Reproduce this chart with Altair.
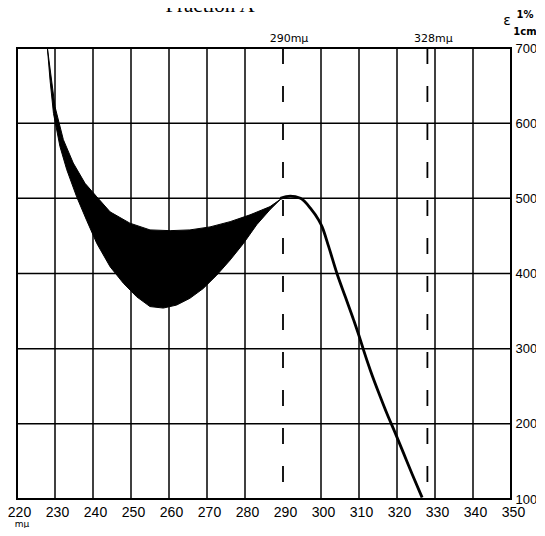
import altair as alt
import pandas as pd

# ---- axis values ----
x_ticks = [220, 230, 240, 250, 260, 270, 280, 290, 300, 310, 320, 330, 340, 350]
y_ticks = [100, 200, 300, 400, 500, 600, 700]
grid_x = [220, 230, 240, 250, 260, 270, 280, 300, 310, 320, 330, 340, 350]
marker_x = [290, 328]
marker_labels = ["290mμ", "328mμ"]

# ---- black band (lower and upper edge of the filled region) ----
lower_x = [228.0, 228.7, 229.6, 231.3, 233.1, 235.7, 238.3, 241.0, 244.5, 248.0, 251.5,
           255.0, 258.5, 262.0, 265.5, 269.0, 272.6, 276.1, 279.6, 283.1, 286.6, 289.4]
lower_y = [700, 657, 613, 569, 538, 502, 471, 440, 409, 387, 369,
           356, 354, 358, 367, 380, 398, 418, 440, 465, 485, 499]
upper_x = [228.0, 230.0, 232.2, 234.8, 237.9, 241.0, 244.5, 249.7, 255.0, 260.3,
           265.5, 270.8, 276.1, 281.3, 286.6, 289.4]
upper_y = [700, 622, 578, 547, 520, 502, 482, 467, 458, 457,
           458, 462, 469, 478, 489, 499]

# ---- single curve beyond the band ----
line_x = [289.3, 291.9, 294.6, 297.2, 299.4, 300.3, 302.0, 304.2, 306.4, 308.6, 310.4,
          311.2, 313.0, 315.6, 317.4, 319.6, 321.8, 324.0, 326.6]
line_y = [500, 503, 500, 487, 471, 462, 436, 400, 369, 338, 311,
          298, 271, 236, 213, 187, 160, 133, 102]

band_df = pd.DataFrame({
    "x": lower_x + upper_x[::-1],
    "y": lower_y + upper_y[::-1],
    "seq": list(range(len(lower_x) + len(upper_x))),
})
line_df = pd.DataFrame({"x": line_x, "y": line_y})
gridx_df = pd.DataFrame({"x": grid_x})
gridy_df = pd.DataFrame({"y": y_ticks})
marker_df = pd.DataFrame({"x": marker_x, "label": marker_labels})

xs = alt.Scale(domain=[220, 350], nice=False, zero=False)
ys = alt.Scale(domain=[100, 700], nice=False, zero=False)
xaxis = alt.Axis(values=x_ticks, grid=False, ticks=False, domain=False, tickSize=0,
                 labelFont="Liberation Sans", labelFontSize=14, labelColor="black",
                 labelPadding=6, labelOffset=2, labelFlush=False, labelOverlap=False,
                 title=None)
yaxis = alt.Axis(orient="right", values=y_ticks, grid=False, ticks=False, domain=False,
                 tickSize=0, labelFont="Liberation Sans", labelFontSize=13,
                 labelColor="black", labelPadding=4, labelFlush=False,
                 labelOverlap=False, title=None)
X = alt.X("x:Q", scale=xs, axis=xaxis)
Y = alt.Y("y:Q", scale=ys, axis=yaxis)

vgrid = alt.Chart(gridx_df).mark_rule(color="black", strokeWidth=1.5).encode(x=X)
hgrid = alt.Chart(gridy_df).mark_rule(color="black", strokeWidth=1.5).encode(y=Y)
dashed = alt.Chart(marker_df).mark_rule(color="black", strokeWidth=1.8,
                                         strokeDash=[16, 22]).encode(x=X)
band = alt.Chart(band_df).mark_line(color="black", fill="black", strokeWidth=1,
                                    interpolate="linear").encode(
    x=X, y=Y, order=alt.Order("seq:Q"))
curve = alt.Chart(line_df).mark_line(color="black", strokeWidth=2.8,
                                     interpolate="monotone").encode(x=X, y=Y)
marker_text = alt.Chart(marker_df).mark_text(font="DejaVu Sans", fontSize=11,
                                             color="black", dx=6, baseline="alphabetic").encode(
    x=X, y=alt.value(-6), text="label:N")


def note(txt, px, py, size, font="DejaVu Sans", weight="normal"):
    return alt.Chart(pd.DataFrame({"t": [txt]})).mark_text(
        font=font, fontSize=size, color="black", fontWeight=weight,
        baseline="alphabetic", align="center").encode(
        x=alt.value(px), y=alt.value(py), text="t:N")


title = note("Fraction A", 193, -36, 21, font="Liberation Serif")
eps = note("ε", 490, -23, 14)
pct = note("1%", 508, -30, 10, weight="bold")
cm = note("1cm", 508, -13, 10, weight="bold")
mmu = note("mμ", 5, 479, 9)

chart = alt.layer(vgrid, hgrid, dashed, band, curve, marker_text,
                  title, eps, pct, cm, mmu).properties(
    width=494, height=451,
    autosize=alt.AutoSizeParams(type="none"),
    padding={"left": 9, "top": 40, "right": 25, "bottom": 29},
    background="white",
).configure_view(stroke="black", strokeWidth=2)

chart.save("out.html", embed_options={"renderer": "svg", "actions": False})
